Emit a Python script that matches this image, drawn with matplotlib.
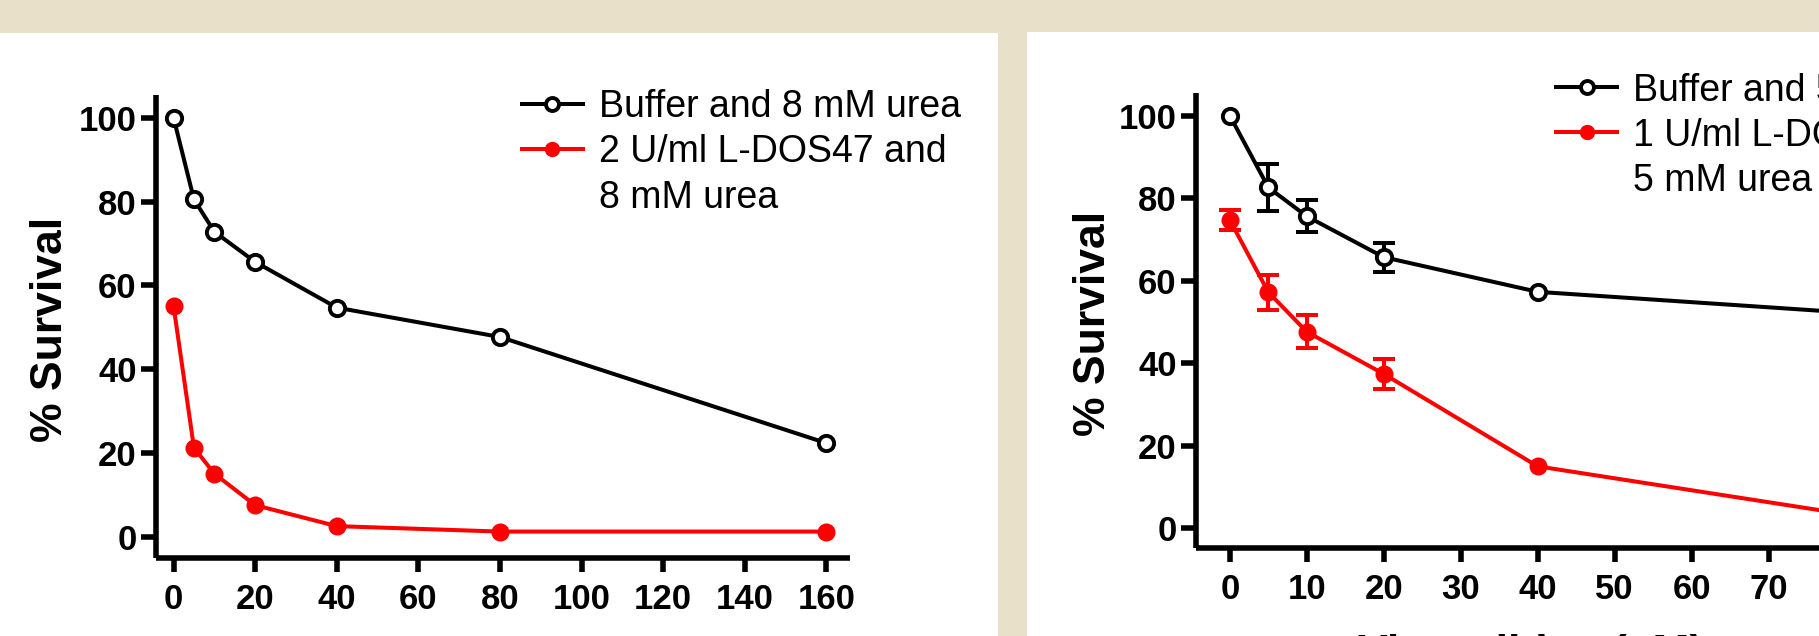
import numpy as np
import matplotlib
matplotlib.use("Agg")
import matplotlib.pyplot as plt
from matplotlib.patches import Rectangle

# left panel (8 mM urea)
conc_left = [0, 5, 10, 20, 40, 80, 160]
buffer_left = [100, 80.5, 72.8, 65.6, 54.7, 47.7, 22.4]
dos_left = [55.1, 21.3, 15.1, 7.6, 2.6, 1.3, 1.3]
xticks_left = [0, 20, 40, 60, 80, 100, 120, 140, 160]

# right panel (5 mM urea), nan = no error bar drawn
conc_right = [0, 5, 10, 20, 40, 80]
buffer_right = [100, 82.6, 75.6, 65.7, 57.3, 52.3]
buffer_right_err = [np.nan, 5.8, 3.9, 3.5, np.nan, np.nan]
dos_right = [74.7, 57.2, 47.6, 37.4, 15.0, 3.4]
dos_right_err = [2.4, 4.2, 4.0, 3.6, np.nan, np.nan]
xticks_right = [0, 10, 20, 30, 40, 50, 60, 70, 80]

yticks = [0, 20, 40, 60, 80, 100]

legend_left = ["Buffer and 8 mM urea", "2 U/ml L-DOS47 and", "8 mM urea"]
legend_right = ["Buffer and 5 mM urea", "1 U/ml L-DOS47 and", "5 mM urea"]

BEIGE = "#e8e0c9"
RED = "#ff0000"
TICK_FONT = ["Liberation Sans Narrow", "Liberation Sans", "DejaVu Sans"]
TEXT_FONT = ["Liberation Sans", "DejaVu Sans"]
LEG_SIZE = 27

fig = plt.figure(figsize=(18.19, 6.36), dpi=100)
fig.patch.set_facecolor(BEIGE)

# white panels on the beige page
fig.patches.append(Rectangle((0, 0), 998 / 1819, 603 / 636, transform=fig.transFigure,
                             facecolor="white", edgecolor="none", zorder=-5))
fig.patches.append(Rectangle((1027 / 1819, 0), 1, 604 / 636, transform=fig.transFigure,
                             facecolor="white", edgecolor="none", zorder=-5))

ax1 = fig.add_axes([156 / 1819, 1 - 558 / 636, 694 / 1819, 463 / 636])
ax2 = fig.add_axes([1196 / 1819, 1 - 548 / 636, 671 / 1819, 455 / 636])


def style_axes(ax, xticks):
    ax.set_facecolor("none")
    for side in ["top", "right"]:
        ax.spines[side].set_visible(False)
    for side in ["left", "bottom"]:
        ax.spines[side].set_linewidth(4)
        ax.spines[side].set_capstyle("butt")
    ax.set_xticks(xticks)
    ax.set_yticks(yticks)
    ax.tick_params(axis="y", direction="out", length=11, width=4, pad=3)
    ax.tick_params(axis="x", direction="out", length=10, width=4, pad=8)
    for lab in ax.get_xticklabels() + ax.get_yticklabels():
        lab.set_fontfamily(TICK_FONT)
        lab.set_fontweight("bold")
        lab.set_fontsize(25)
    ax.set_ylabel("% Survival", fontsize=32, fontweight="bold", family=TEXT_FONT)
    ax.yaxis.set_label_coords(-0.122, 0.494)


def add_legend(ax, labels, anchor):
    leg = ax.legend(loc="upper left", bbox_to_anchor=anchor, frameon=False,
                    prop={"family": TEXT_FONT, "size": LEG_SIZE}, borderpad=0,
                    borderaxespad=0, handlelength=1.63, handletextpad=0.42,
                    labelspacing=0.24, markerscale=0.85)
    # continuation line of the second label, drawn after the legend
    ax.annotate(labels[2], xy=(0, 0), xycoords=leg.get_texts()[1],
                xytext=(0, -33), textcoords="offset points", va="bottom",
                ha="left", fontsize=LEG_SIZE, family=TEXT_FONT,
                annotation_clip=False, zorder=10)


# left panel
ax1.plot(conc_left, buffer_left, color="black", lw=2.9, marker="o", ms=11,
         mfc="white", mec="black", mew=2.8, label=legend_left[0], zorder=3)
ax1.plot(conc_left, dos_left, color=RED, lw=2.9, marker="o", ms=13,
         mfc=RED, mec=RED, mew=0, label=legend_left[1], zorder=3)
ax1.set_xlim(-4.3, 165.8)
ax1.set_ylim(-5, 105.4)
style_axes(ax1, xticks_left)
add_legend(ax1, legend_left, (0.527, 1.012))

# right panel
ax2.errorbar(conc_right, buffer_right, yerr=buffer_right_err, fmt="none",
             ecolor="black", elinewidth=2.9, capsize=7.6, capthick=2.9, zorder=2)
ax2.errorbar(conc_right, dos_right, yerr=dos_right_err, fmt="none",
             ecolor=RED, elinewidth=2.9, capsize=7.6, capthick=2.9, zorder=2)
ax2.plot(conc_right, buffer_right, color="black", lw=2.9, marker="o", ms=11,
         mfc="white", mec="black", mew=2.8, label=legend_right[0], zorder=3)
ax2.plot(conc_right, dos_right, color=RED, lw=2.9, marker="o", ms=13,
         mfc=RED, mec=RED, mew=0, label=legend_right[1], zorder=3)
ax2.set_xlim(-4.4, 82.8)
ax2.set_ylim(-4.8, 105.5)
style_axes(ax2, xticks_right)
ax2.set_xlabel("Vinorelbine (\u00b5M)", fontsize=32, fontweight="bold", family=TEXT_FONT)
ax2.xaxis.set_label_coords(0.5, -0.188)
add_legend(ax2, legend_right, (0.5365, 1.045))

fig.savefig("out.png", dpi=100, facecolor=fig.get_facecolor())
